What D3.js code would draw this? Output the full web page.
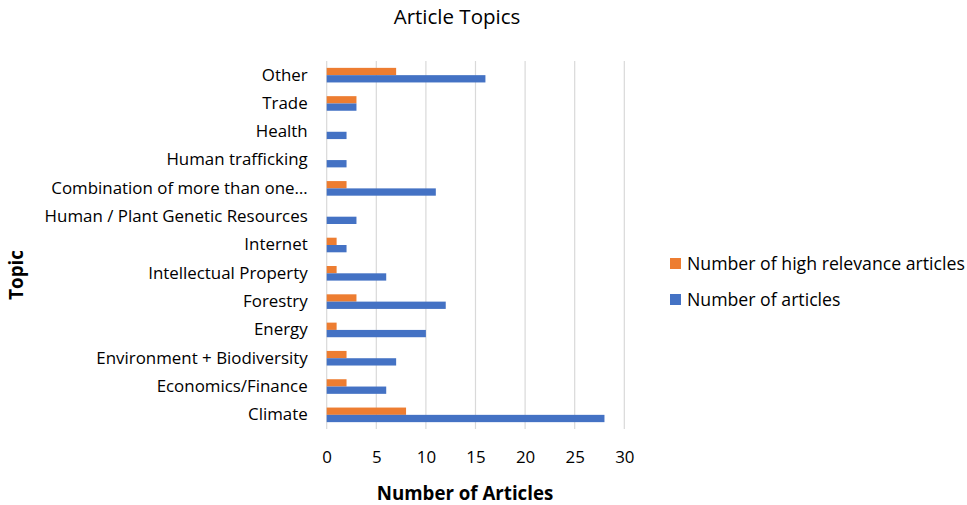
<!DOCTYPE html>
<html><head><meta charset="utf-8">
<script src="https://cdn.jsdelivr.net/npm/d3@7"></script>
<style>body{margin:0;background:#fff}text{font-family:"Open Sans",sans-serif}</style>
</head><body><svg id="c" width="967" height="505"></svg>
<script>
const categories = ["Other","Trade","Health","Human trafficking","Combination of more than one…","Human / Plant Genetic Resources","Internet","Intellectual Property","Forestry","Energy","Environment + Biodiversity","Economics/Finance","Climate"];
const highRelevance = [7,3,0,0,2,0,1,1,3,1,2,2,8];
const articles = [16,3,2,2,11,3,2,6,12,10,7,6,28];
const seriesNames = ["Number of high relevance articles","Number of articles"];
const xTicks = [0,5,10,15,20,25,30];
const colors = ["#ED7D31","#4472C4"];

(function(){
const FF = "'Open Sans',sans-serif";
const svg = d3.select("#c");
const pL = 326.7, pR = 624.3, pT = 61, pB = 429;
const x = d3.scaleLinear().domain([0,30]).range([pL,pR]);
const y = d3.scaleBand().domain(categories).range([pT,pB]);
const sub = d3.scaleBand().domain([0,1]).range([0,14.6]);

svg.append("g").selectAll("line").data(xTicks).join("line")
  .attr("x1",d=>x(d)).attr("x2",d=>x(d)).attr("y1",pT).attr("y2",pB)
  .attr("stroke","#d9d9d9").attr("stroke-width",1.2);

const series = [highRelevance, articles];
series.forEach((vals,si)=>{
  svg.append("g").selectAll("rect").data(categories).join("rect")
    .attr("x",x(0))
    .attr("y",(c)=>y(c)+y.bandwidth()/2-7.3+sub(si))
    .attr("width",(c,i)=>x(vals[i])-x(0))
    .attr("height",sub.bandwidth())
    .attr("fill",colors[si]);
});

const yAxis = d3.axisLeft(y).tickSize(0).tickPadding(19);
const ya = svg.append("g").attr("transform",`translate(${pL},0)`).call(yAxis);
ya.select(".domain").remove();
ya.selectAll("text").attr("font-size",16.9).attr("fill","#000").style("font-family",FF);

const xAxis = d3.axisBottom(x).tickValues(xTicks).tickSize(0).tickPadding(22);
const xa = svg.append("g").attr("transform",`translate(0,${pB})`).call(xAxis);
xa.select(".domain").remove();
xa.selectAll("text").attr("font-size",16.9).attr("fill","#000").style("font-family",FF);

svg.append("text").attr("x",457).attr("y",24).attr("text-anchor","middle").attr("font-size",20.5).text("Article Topics");
svg.append("text").attr("x",465).attr("y",500).attr("text-anchor","middle").attr("font-size",18.7).attr("font-weight","bold").text("Number of Articles");
svg.append("text").attr("transform","translate(23,275) rotate(-90)").attr("text-anchor","middle").attr("font-size",18.7).attr("font-weight","bold").text("Topic");

const lg = svg.append("g");
seriesNames.forEach((n,i)=>{
  const yy = 264 + i*36;
  lg.append("rect").attr("x",670).attr("y",yy-6).attr("width",11).attr("height",11).attr("fill",colors[i]);
  lg.append("text").attr("x",687).attr("y",yy+6).attr("font-size",17.7).text(n);
});
})();
</script></body></html>
